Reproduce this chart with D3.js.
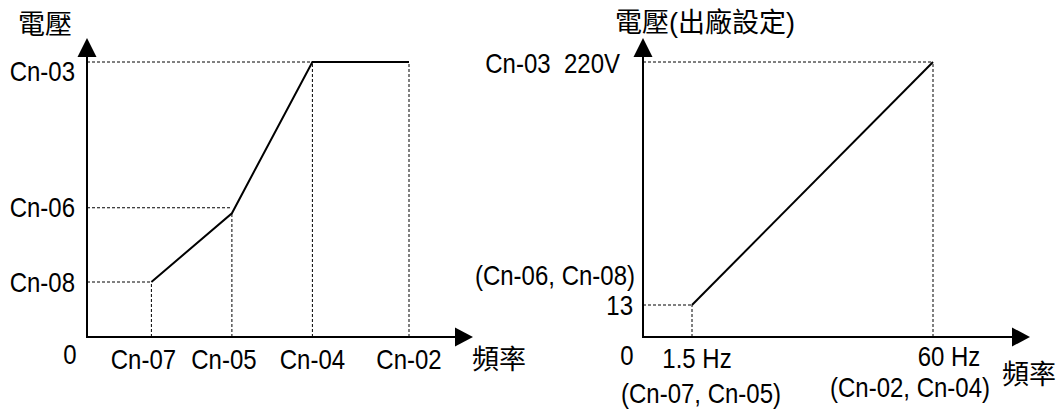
<!DOCTYPE html>
<html>
<head>
<meta charset="utf-8">
<script src="https://cdn.jsdelivr.net/npm/d3@7"></script>
<style>
  body { margin: 0; background: #fff; }
  text { font-family: "Liberation Sans", Arial, sans-serif; fill: #000; }
  .cjk { font-family: "Noto Sans CJK TC", "Noto Sans CJK SC", sans-serif; }
</style>
</head>
<body>
<div id="chart"></div>
<script>
const WIDTH = 1061;
const HEIGHT = 410;

// left chart: V/f curve with parameter names (schematic units)
const LEFT_X_LABELS = ["Cn-07", "Cn-05", "Cn-04", "Cn-02"];
const LEFT_X_VALUES = [2, 4.5, 7, 10];
const LEFT_Y_LABELS = ["Cn-08", "Cn-06", "Cn-03"];
const LEFT_Y_VALUES = [2, 4.7, 10];
const LEFT_CURVE = [2, 4.5, 10, 10];   // voltage at each x value

// right chart: factory setting
const RIGHT_FREQ = [1.5, 60];
const RIGHT_VOLT = [13, 220];
const RIGHT_FREQ_LABELS = ["1.5 Hz", "60 Hz"];
const RIGHT_FREQ_PARAMS = ["(Cn-07, Cn-05)", "(Cn-02, Cn-04)"];
const RIGHT_VOLT_LABELS = ["13", "Cn-03  220V"];

const svg = d3.select("#chart")
  .append("svg")
    .attr("width", WIDTH)
    .attr("height", HEIGHT);

// arrow-headed axis lines
function drawAxes(x0, y0, xEnd, yEnd) {
  svg.append("line")
    .attr("x1", x0).attr("y1", y0).attr("x2", xEnd - 16).attr("y2", y0)
    .attr("stroke", "#000").attr("stroke-width", 2);
  svg.append("line")
    .attr("x1", x0).attr("y1", y0 + 1).attr("x2", x0).attr("y2", yEnd + 16)
    .attr("stroke", "#000").attr("stroke-width", 2);
  svg.append("path")
    .attr("d", `M${xEnd},${y0} L${xEnd - 18},${y0 - 9.5} L${xEnd - 18},${y0 + 9.5} Z`)
    .attr("fill", "#000");
  svg.append("path")
    .attr("d", `M${x0},${yEnd} L${x0 - 9.5},${yEnd + 19} L${x0 + 9.5},${yEnd + 19} Z`)
    .attr("fill", "#000");
}

function dashed(x1, y1, x2, y2) {
  svg.append("line")
    .attr("x1", x1).attr("y1", y1).attr("x2", x2).attr("y2", y2)
    .attr("stroke", "#000")
    .attr("stroke-width", 1)
    .attr("stroke-dasharray", "3,2");
}

// latin text in the original is a bit taller than Arial, so stretch it
function label(x, y, str, anchor, size, cls) {
  const stretch = cls ? 1 : 1.15;
  return svg.append("text")
    .attr("transform", `translate(${x},${y}) scale(1,${stretch})`)
    .attr("dy", "0.35em")
    .attr("text-anchor", anchor)
    .attr("font-size", size)
    .attr("class", cls || null)
    .style("white-space", "pre")
    .text(str);
}

// ---------- left chart ----------
const X_LEFT = d3.scaleLinear().domain([0, 10]).range([87, 409]);
const Y_LEFT = d3.scaleLinear().domain([0, 10]).range([337, 62]);

// guides: each y level runs out to its paired x value
const pairX = [LEFT_X_VALUES[0], LEFT_X_VALUES[1], LEFT_X_VALUES[3]];
LEFT_Y_VALUES.forEach((v, i) => {
  dashed(X_LEFT(0), Y_LEFT(v), X_LEFT(pairX[i]), Y_LEFT(v));
});
LEFT_X_VALUES.forEach((v, i) => {
  const top = i == 1 ? LEFT_CURVE[i] : (i == 0 ? LEFT_Y_VALUES[0] : LEFT_Y_VALUES[2]);
  dashed(X_LEFT(v), Y_LEFT(0), X_LEFT(v), Y_LEFT(top));
});

drawAxes(X_LEFT(0), Y_LEFT(0), 473, 38);

svg.append("path")
  .datum(LEFT_X_VALUES.map((x, i) => [x, LEFT_CURVE[i]]))
  .attr("fill", "none")
  .attr("stroke", "#000")
  .attr("stroke-width", 2)
  .attr("d", d3.line().x(d => X_LEFT(d[0])).y(d => Y_LEFT(d[1])));

LEFT_X_LABELS.forEach((t, i) => {
  const shift = i < 2 ? -8 : 0;
  label(X_LEFT(LEFT_X_VALUES[i]) + shift, 359, t, "middle", 24);
});
LEFT_Y_LABELS.forEach((t, i) => {
  const shift = i == 2 ? 9 : 0;
  label(75, Y_LEFT(LEFT_Y_VALUES[i]) + shift, t, "end", 24);
});
label(70, 354, "0", "middle", 24);
label(18, 25, "電壓", "start", 27, "cjk");
label(472, 360, "頻率", "start", 27, "cjk");

// ---------- right chart ----------
// axis is broken between 0 and the first point, so the scale is piecewise
const X_RIGHT = d3.scaleLinear().domain([0, 1.5, 60]).range([643, 692, 933]);
const Y_RIGHT = d3.scaleLinear().domain([0, 13, 220]).range([337, 305, 62]);

RIGHT_FREQ.forEach((f, i) => {
  dashed(X_RIGHT(0), Y_RIGHT(RIGHT_VOLT[i]), X_RIGHT(f), Y_RIGHT(RIGHT_VOLT[i]));
  dashed(X_RIGHT(f), Y_RIGHT(0), X_RIGHT(f), Y_RIGHT(RIGHT_VOLT[i]));
});

drawAxes(X_RIGHT(0), Y_RIGHT(0), 1030, 38);

svg.append("path")
  .datum(RIGHT_FREQ.map((f, i) => [f, RIGHT_VOLT[i]]))
  .attr("fill", "none")
  .attr("stroke", "#000")
  .attr("stroke-width", 2)
  .attr("d", d3.line().x(d => X_RIGHT(d[0])).y(d => Y_RIGHT(d[1])));

label(697, 358, RIGHT_FREQ_LABELS[0], "middle", 24);
label(701, 393, RIGHT_FREQ_PARAMS[0], "middle", 24);
label(949, 356, RIGHT_FREQ_LABELS[1], "middle", 24);
label(910, 387, RIGHT_FREQ_PARAMS[1], "middle", 24);

label(633, Y_RIGHT(RIGHT_VOLT[0]), RIGHT_VOLT_LABELS[0], "end", 24);
label(620, Y_RIGHT(RIGHT_VOLT[1]) + 1, RIGHT_VOLT_LABELS[1], "end", 24);
label(635, 275, "(Cn-06, Cn-08)", "end", 24);
label(627, 355, "0", "middle", 24);

svg.append("text")
  .attr("x", 615).attr("y", 23).attr("dy", "0.35em")
  .attr("font-size", 27)
  .call(t => {
    t.append("tspan").attr("class", "cjk").text("電壓");
    t.append("tspan").text("(");
    t.append("tspan").attr("class", "cjk").text("出廠設定");
    t.append("tspan").text(")");
  });
label(1002, 375, "頻率", "start", 27, "cjk");
</script>
</body>
</html>
